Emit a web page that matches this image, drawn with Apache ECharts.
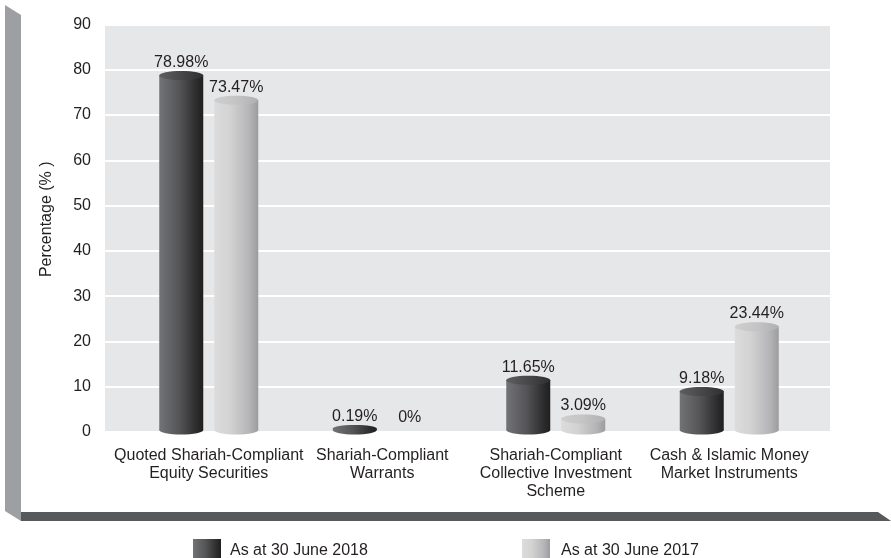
<!DOCTYPE html>
<html>
<head>
<meta charset="utf-8">
<script src="https://cdn.jsdelivr.net/npm/echarts@6/dist/echarts.min.js"></script>
<style>html,body{margin:0;padding:0;background:#fff}#c{width:891px;height:558px}</style>
</head>
<body>
<div id="c"></div>
<script>
const categories = [
  "Quoted Shariah-Compliant\nEquity Securities",
  "Shariah-Compliant\nWarrants",
  "Shariah-Compliant\nCollective Investment\nScheme",
  "Cash & Islamic Money\nMarket Instruments"
];
const seriesNames = ["As at 30 June 2018", "As at 30 June 2017"];
const values2018 = [78.98, 0.19, 11.65, 9.18];
const values2017 = [73.47, 0, 3.09, 23.44];
const yTicks = [0, 10, 20, 30, 40, 50, 60, 70, 80, 90];
const yAxisName = "Percentage (% )";

const FONT = "Arial, 'Liberation Sans', sans-serif";
const TXT = "#231f20";

function grad(stops){return {type:'linear',x:0,y:0,x2:1,y2:0,colorStops:stops.map((c,i)=>({offset:c[0],color:c[1]}))};}
const darkBody = grad([[0,'#727376'],[0.45,'#555557'],[0.85,'#2c2c2d'],[1,'#1f1f20']]);
const darkTop = grad([[0,'#5e5e60'],[0.5,'#474749'],[1,'#2f2f30']]);
const lightBody = grad([[0,'#dcdcdd'],[0.35,'#d3d3d4'],[0.8,'#b4b4b6'],[1,'#9c9c9e']]);
const lightTop = grad([[0,'#cfcfd0'],[0.5,'#c4c4c5'],[1,'#b0b0b2']]);

function makeRender(offset, body, top){
  return function(params, api){
    const cat = api.value(0), v = api.value(1);
    const p = api.coord([cat, v]);
    const p0 = api.coord([cat, 0]);
    const cx = p[0] + offset;
    const rx = 22, ry = 4.5;
    const children = [];
    const fmt = v + '%';
    if (v > 0) {
      const botY = p0[1] - 2;
      const topY = Math.min(p[1] + 1, p0[1] - 3.5);
      const ryTop = v < 1 ? 3.5 : ry;
      children.push({type:'ellipse',shape:{cx:cx,cy:botY,rx:rx,ry:ry},style:{fill:body}});
      children.push({type:'rect',shape:{x:cx-rx,y:topY,width:rx*2,height:Math.max(0,botY-topY)},style:{fill:body}});
      children.push({type:'ellipse',shape:{cx:cx,cy:topY,rx:rx,ry:ryTop},style:{fill:v < 1 ? body : top}});
      children.push({type:'text',x:cx,y:topY-(v<1?12:13),style:{text:fmt,fill:TXT,font:'16px '+FONT,align:'center',verticalAlign:'middle'}});
    } else {
      children.push({type:'text',x:cx,y:p0[1]-14,style:{text:fmt,fill:TXT,font:'16px '+FONT,align:'center',verticalAlign:'middle'}});
    }
    return {type:'group',children:children};
  };
}

const chart = echarts.init(document.getElementById('c'), null, {renderer:'canvas'});
chart.setOption({
  animation:false,
  backgroundColor:'#ffffff',
  graphic:[
    {type:'polygon',shape:{points:[[5,5],[21,15],[21,521],[5,511]]},style:{fill:'#9d9fa2'},z:-10},
    {type:'polygon',shape:{points:[[21,512],[878,512],[891,521],[21,521]]},style:{fill:'#58595b'},z:-9}
  ],
  grid:[
    {left:105,right:61,top:24.5,bottom:126,show:true,backgroundColor:'#e6e7e8',borderWidth:0},
    {left:122,right:75,top:24.5,bottom:126}
  ],
  xAxis:[
    {type:'value',gridIndex:0,show:false,min:0,max:1},
    {type:'category',gridIndex:1,data:categories,axisLine:{show:false},axisTick:{show:false},
     axisLabel:{color:TXT,fontFamily:FONT,fontSize:16,lineHeight:18,margin:15,interval:0}}
  ],
  yAxis:[
    {type:'value',gridIndex:0,min:0,max:90,interval:10,
     axisLine:{show:false},axisTick:{show:false},
     axisLabel:{color:TXT,fontFamily:FONT,fontSize:16,margin:14,formatter:function(v){return yTicks.indexOf(v)>=0?String(v):'';}},
     splitLine:{show:true,lineStyle:{color:'#ffffff',width:2}},
     name:yAxisName,nameLocation:'middle',nameRotate:90,nameGap:50,
     nameTextStyle:{color:TXT,fontFamily:FONT,fontSize:16,padding:[0,0,0,18]}},
    {type:'value',gridIndex:1,min:0,max:90,interval:10,show:false,splitLine:{show:false}}
  ],
  legend:[
    {data:[seriesNames[0]],left:188,top:534,itemWidth:28,itemHeight:24,itemGap:0,icon:'rect',
     textStyle:{color:TXT,fontFamily:FONT,fontSize:16,padding:[0,0,0,4]}},
    {data:[seriesNames[1]],left:517,top:534,itemWidth:28,itemHeight:24,itemGap:0,icon:'rect',
     textStyle:{color:TXT,fontFamily:FONT,fontSize:16,padding:[0,0,0,6]}}
  ],
  series:[
    {name:seriesNames[0],type:'custom',xAxisIndex:1,yAxisIndex:1,
     itemStyle:{color:darkBody},
     renderItem:makeRender(-27.5,darkBody,darkTop),
     data:values2018.map((v,i)=>[i,v])},
    {name:seriesNames[1],type:'custom',xAxisIndex:1,yAxisIndex:1,
     itemStyle:{color:lightBody},
     renderItem:makeRender(27.5,lightBody,lightTop),
     data:values2017.map((v,i)=>[i,v])}
  ]
});
</script>
</body>
</html>
